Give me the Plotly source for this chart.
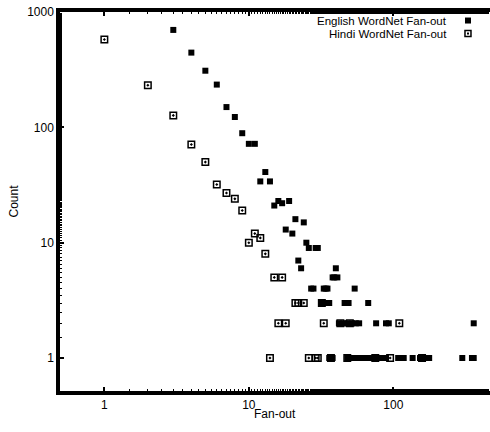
import plotly.graph_objects as go

# English WordNet fan-out (filled squares)
english_fanout = [3, 4, 5, 6, 7, 8, 9, 10, 11, 12, 13, 14,
                  15, 16, 17, 19, 18, 20, 21, 24, 25, 26, 29, 30,
                  22, 23, 40, 38, 39, 41,
                  27, 28, 33, 34, 35, 54,
                  32, 34, 36, 46, 48, 49, 67,
                  42, 45, 48, 52, 55, 58, 76, 89, 93, 360,
                  36, 38, 48, 51, 54, 57, 61, 65, 69, 73, 78, 83, 89,
                  108, 112, 118, 136, 153, 160, 168, 177, 300, 350, 360]
english_count = [700, 445, 310, 235, 150, 123, 89, 72, 72, 34, 41, 34,
                 21, 23, 22, 23, 13, 12, 16, 15, 10, 9, 9, 9,
                 7, 6, 6, 5, 5, 5,
                 4, 4, 4, 4, 4, 4,
                 3, 3, 3, 3, 3, 3, 3,
                 2, 2, 2, 2, 2, 2, 2, 2, 2, 2,
                 1, 1, 1, 1, 1, 1, 1, 1, 1, 1, 1, 1, 1,
                 1, 1, 1, 1, 1, 1, 1, 1, 1, 1, 1]

# Hindi WordNet fan-out (open squares)
hindi_fanout = [1, 2, 3, 4, 5, 6, 7, 8, 9, 10, 11, 12, 13,
                15, 17, 21, 22, 24, 32,
                16, 18, 33, 43, 50, 110,
                14, 26, 29, 30, 37, 48, 75, 95, 158]
hindi_count = [578, 232, 127, 71, 50, 32, 27, 24, 19, 10, 12, 11, 8,
               5, 5, 3, 3, 3, 3,
               2, 2, 2, 2, 2, 2,
               1, 1, 1, 1, 1, 1, 1, 1, 1]

legend_labels = ["English WordNet Fan-out", "Hindi WordNet Fan-out"]
x_ticks = [1, 10, 100]
y_ticks = [1, 10, 100, 1000]

FONT = "Liberation Sans, Arial, Helvetica, sans-serif"
FS = 12

fig = go.Figure()
fig.add_trace(go.Scatter(
    x=english_fanout, y=english_count, mode="markers", name=legend_labels[0],
    marker=dict(symbol="square", size=6, color="black", line=dict(width=0)),
    showlegend=False))
fig.add_trace(go.Scatter(
    x=hindi_fanout, y=hindi_count, mode="markers", name=legend_labels[1],
    marker=dict(symbol="square-open-dot", size=6.5, color="black", line=dict(width=1.5, color="black")),
    showlegend=False))

axis_common = dict(
    showline=True, linewidth=3.5, linecolor="black",
    ticks="inside", ticklen=4, tickwidth=1.5, tickcolor="black",
    showgrid=False, zeroline=False, ticklabeloverflow="allow",
    tickfont=dict(family=FONT, size=FS, color="black"),
    minor=dict(ticks="inside", ticklen=2, tickwidth=1, tickcolor="black", showgrid=False),
)

fig.update_layout(
    width=490, height=432,
    margin=dict(l=60, r=0, t=12, b=41, autoexpand=False),
    paper_bgcolor="white", plot_bgcolor="white",
    font=dict(family=FONT, size=FS, color="black"),
    xaxis=dict(type="log", range=[-0.307, 2.669], tickvals=x_ticks,
               ticktext=[str(v) for v in x_ticks], mirror="ticks", **axis_common),
    yaxis=dict(type="log", range=[-0.286, 3.0005], tickvals=y_ticks,
               ticktext=[str(v) for v in y_ticks], mirror=False, **axis_common),
    showlegend=False,
)

# axis titles
fig.add_annotation(text="Fan-out", xref="paper", yref="paper", x=0.5, y=0,
                   yshift=-23, showarrow=False, yanchor="middle",
                   font=dict(family=FONT, size=FS, color="black"))
fig.add_annotation(text="Count", xref="paper", yref="paper", x=0, y=0.5,
                   xshift=-47, showarrow=False, textangle=-90, xanchor="center",
                   font=dict(family=FONT, size=FS, color="black"))

# legend (text on left, symbols on right)
leg_y = [0.9775, 0.9432]
for lab, yy in zip(legend_labels, leg_y):
    fig.add_annotation(text=lab, xref="paper", yref="paper", x=0.9023, y=yy,
                       xanchor="right", yanchor="middle", showarrow=False,
                       borderpad=0,
                       font=dict(family=FONT, size=11.5, color="black"))
fig.add_shape(type="rect", xref="paper", yref="paper", xsizemode="pixel", ysizemode="pixel",
              xanchor=0.9488, yanchor=leg_y[0], x0=-3, x1=3, y0=-3, y1=3,
              fillcolor="black", line=dict(width=0))
fig.add_shape(type="rect", xref="paper", yref="paper", xsizemode="pixel", ysizemode="pixel",
              xanchor=0.9488, yanchor=leg_y[1], x0=-3, x1=3, y0=-3, y1=3,
              fillcolor="white", line=dict(width=1.5, color="black"))
fig.add_shape(type="rect", xref="paper", yref="paper", xsizemode="pixel", ysizemode="pixel",
              xanchor=0.9488, yanchor=leg_y[1], x0=-1, x1=1, y0=-1, y1=1,
              fillcolor="black", line=dict(width=0))

fig.write_html("out.html",
               config={"displayModeBar": False},
               post_script="document.body.style.margin='0';document.body.style.overflow='hidden';")
